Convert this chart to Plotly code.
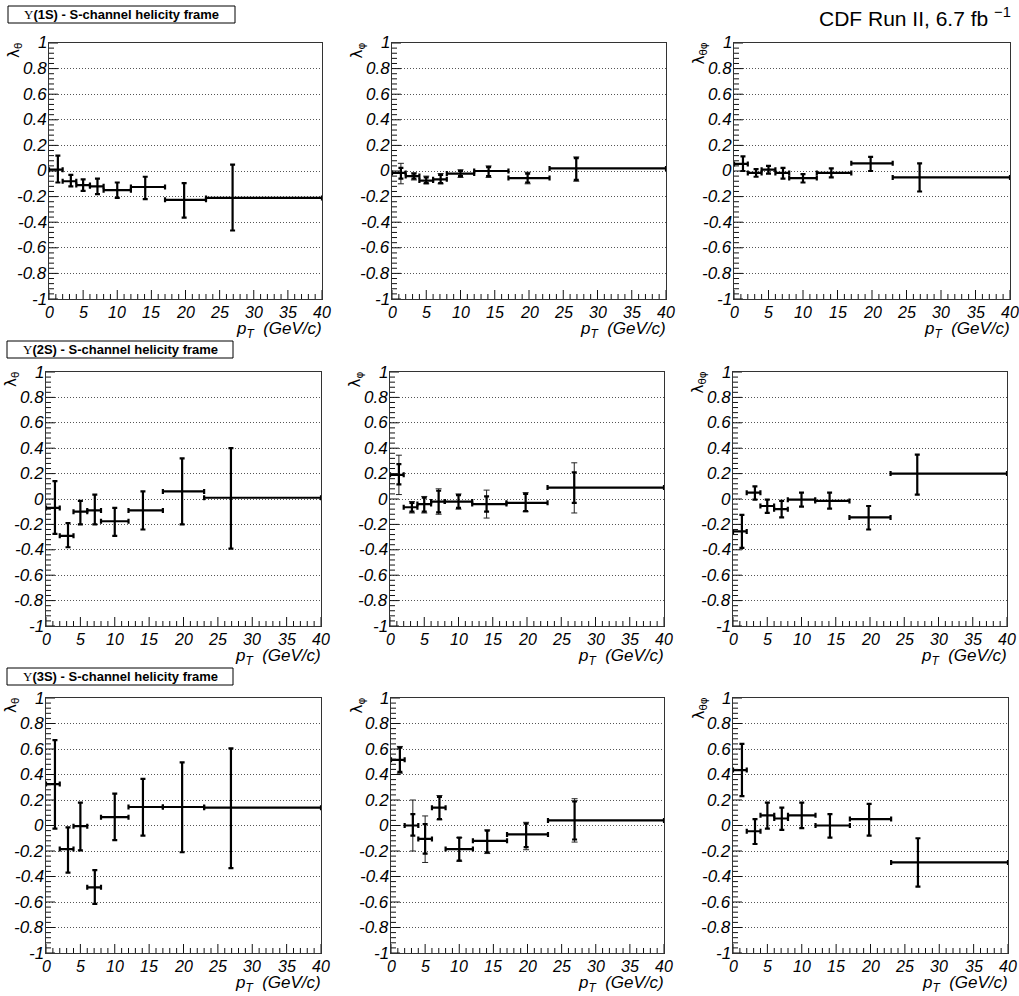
import plotly.graph_objects as go

W, H = 1019, 996

# ---------------- data ----------------
bin_edges = [0, 2, 4, 6, 8, 12, 17, 23, 40]
pt_mean = [1.3, 3.2, 5.0, 7.1, 10.0, 14.1, 19.8, 26.9]

states = ["1S", "2S", "3S"]
param_labels = ["λ<sub>θ</sub>", "λ<sub>φ</sub>", "λ<sub>θφ</sub>"]

x_tick_vals = [0, 5, 10, 15, 20, 25, 30, 35, 40]
x_tick_text = ["0", "5", "10", "15", "20", "25", "30", "35", "40"]
y_tick_vals = [-1, -0.8, -0.6, -0.4, -0.2, 0, 0.2, 0.4, 0.6, 0.8, 1]
y_tick_text = ["-1", "-0.8", "-0.6", "-0.4", "-0.2", "0", "0.2", "0.4", "0.6", "0.8", "1"]

# Upsilon(1S)
y1_lth = [0.01, -0.08, -0.11, -0.12, -0.15, -0.125, -0.225, -0.21]
y1_lth_hi = [0.12, -0.03, -0.065, -0.06, -0.09, -0.045, -0.095, 0.05]
y1_lth_lo = [-0.09, -0.12, -0.155, -0.18, -0.21, -0.22, -0.365, -0.465]

y1_lph = [-0.015, -0.04, -0.075, -0.065, -0.02, 0.0, -0.055, 0.02]
y1_lph_hi = [0.06, -0.015, -0.04, -0.02, 0.01, 0.04, -0.01, 0.11]
y1_lph_lo = [-0.10, -0.07, -0.10, -0.10, -0.05, -0.05, -0.10, -0.08]
y1_lph_shi = [0.025, -0.02, -0.05, -0.03, 0.0, 0.03, -0.02, 0.10]
y1_lph_slo = [-0.06, -0.06, -0.095, -0.095, -0.04, -0.04, -0.09, -0.07]

y1_ltp = [0.055, -0.015, 0.01, -0.015, -0.055, -0.015, 0.06, -0.05]
y1_ltp_hi = [0.115, 0.015, 0.04, 0.025, -0.025, 0.02, 0.11, 0.06]
y1_ltp_lo = [0.0, -0.045, -0.02, -0.06, -0.09, -0.05, 0.0, -0.16]

# Upsilon(2S)
y2_lth = [-0.07, -0.29, -0.10, -0.09, -0.175, -0.09, 0.06, 0.01]
y2_lth_hi = [0.14, -0.19, -0.015, 0.035, -0.07, 0.06, 0.32, 0.40]
y2_lth_lo = [-0.275, -0.38, -0.20, -0.20, -0.29, -0.24, -0.20, -0.39]

y2_lph = [0.19, -0.065, -0.04, -0.02, -0.02, -0.04, -0.03, 0.09]
y2_lph_hi = [0.345, -0.02, 0.02, 0.08, 0.04, 0.07, 0.05, 0.285]
y2_lph_lo = [0.035, -0.11, -0.11, -0.12, -0.08, -0.15, -0.10, -0.11]
y2_lph_shi = [0.275, -0.03, 0.01, 0.065, 0.03, 0.02, 0.04, 0.21]
y2_lph_slo = [0.115, -0.10, -0.10, -0.105, -0.07, -0.10, -0.095, -0.03]

y2_ltp = [-0.255, 0.05, -0.055, -0.08, -0.005, -0.015, -0.145, 0.20]
y2_ltp_hi = [-0.125, 0.10, -0.005, -0.015, 0.05, 0.05, -0.055, 0.35]
y2_ltp_lo = [-0.385, -0.005, -0.11, -0.145, -0.06, -0.075, -0.24, 0.035]

# Upsilon(3S)
y3_lth = [0.325, -0.185, -0.005, -0.485, 0.065, 0.145, 0.145, 0.14]
y3_lth_hi = [0.67, -0.015, 0.18, -0.35, 0.25, 0.365, 0.495, 0.605]
y3_lth_lo = [-0.025, -0.37, -0.195, -0.615, -0.115, -0.08, -0.21, -0.335]

y3_lph = [0.515, 0.0, -0.105, 0.14, -0.185, -0.12, -0.07, 0.04]
y3_lph_hi = [0.62, 0.20, 0.075, 0.235, -0.095, -0.035, 0.025, 0.21]
y3_lph_lo = [0.41, -0.20, -0.29, 0.045, -0.28, -0.22, -0.19, -0.13]
y3_lph_shi = [0.61, 0.09, 0.01, 0.225, -0.095, -0.04, 0.015, 0.19]
y3_lph_slo = [0.42, -0.08, -0.22, 0.05, -0.275, -0.21, -0.17, -0.11]

y3_ltp = [0.435, -0.045, 0.08, 0.055, 0.08, 0.0, 0.05, -0.29]
y3_ltp_hi = [0.64, 0.05, 0.18, 0.14, 0.18, 0.09, 0.17, -0.10]
y3_ltp_lo = [0.23, -0.145, -0.025, -0.035, -0.02, -0.095, -0.08, -0.48]

panels = [
    [(y1_lth, y1_lth_lo, y1_lth_hi, None, None),
     (y1_lph, y1_lph_lo, y1_lph_hi, y1_lph_slo, y1_lph_shi),
     (y1_ltp, y1_ltp_lo, y1_ltp_hi, None, None)],
    [(y2_lth, y2_lth_lo, y2_lth_hi, None, None),
     (y2_lph, y2_lph_lo, y2_lph_hi, y2_lph_slo, y2_lph_shi),
     (y2_ltp, y2_ltp_lo, y2_ltp_hi, None, None)],
    [(y3_lth, y3_lth_lo, y3_lth_hi, None, None),
     (y3_lph, y3_lph_lo, y3_lph_hi, y3_lph_slo, y3_lph_shi),
     (y3_ltp, y3_ltp_lo, y3_ltp_hi, None, None)],
]

# ---------------- layout geometry (pixels) ----------------
rows_px = [(43, 299), (372, 626), (698, 953)]
cols_px = [
    [(49, 322), (392, 666), (734, 1010)],
    [(46, 321), (390, 664), (733, 1007)],
    [(46, 321), (391, 664), (733, 1008)],
]
box_px = [(8, 6, 235, 23), (7, 341, 233, 358), (7, 668, 233, 685)]
MAJOR_LEN, MINOR_LEN = 9, 5

# minor tick positions (axis decoration, not data)
x_minor = [v for v in range(0, 41) if v % 5 != 0]
y_minor = [round(-1 + 0.04 * k, 2) for k in range(51) if k % 5 != 0]

def px_x(p):
    return p / W

def px_y(p):
    return 1 - p / H

FONT = "Liberation Sans"
fig = go.Figure()
annotations = []
shapes = []

xerr_plus = [bin_edges[i + 1] - pt_mean[i] for i in range(len(pt_mean))]
xerr_minus = [pt_mean[i] - bin_edges[i] for i in range(len(pt_mean))]
TICK_LINE = dict(color="#111", width=1)

idx = 0
for r in range(3):
    for c in range(3):
        idx += 1
        xa = "x" if idx == 1 else f"x{idx}"
        ya = "y" if idx == 1 else f"y{idx}"
        xl = "xaxis" if idx == 1 else f"xaxis{idx}"
        yl = "yaxis" if idx == 1 else f"yaxis{idx}"
        (x0, x1) = cols_px[r][c]
        (t, b) = rows_px[r]
        pw, ph = x1 - x0, b - t
        yv, lo, hi, slo, shi = panels[r][c]
        eplus = [h - v for h, v in zip(hi, yv)]
        eminus = [v - l for v, l in zip(yv, lo)]
        if slo is not None:
            fig.add_trace(go.Scatter(
                x=pt_mean, y=yv, mode="markers", xaxis=xa, yaxis=ya,
                marker=dict(size=1, color="black"), showlegend=False, hoverinfo="skip",
                error_y=dict(type="data", symmetric=False, array=eplus, arrayminus=eminus,
                             color="#222", thickness=1, width=3),
            ))
            splus = [h - v for h, v in zip(shi, yv)]
            sminus = [v - l for v, l in zip(yv, slo)]
        else:
            splus, sminus = eplus, eminus
        fig.add_trace(go.Scatter(
            x=pt_mean, y=yv, mode="markers", xaxis=xa, yaxis=ya,
            marker=dict(size=1, color="black"), showlegend=False, hoverinfo="skip",
            error_y=dict(type="data", symmetric=False, array=splus, arrayminus=sminus,
                         color="black", thickness=2.2, width=2.5),
            error_x=dict(type="data", symmetric=False, array=xerr_plus, arrayminus=xerr_minus,
                         color="black", thickness=2.2, width=2.5),
        ))
        fig.layout[xl] = dict(
            domain=[px_x(x0), px_x(x1)], anchor=ya, range=[0, 40],
            showticklabels=False, ticks="",
            showline=True, linecolor="#333", linewidth=1, mirror=True,
            showgrid=False, zeroline=False,
        )
        fig.layout[yl] = dict(
            domain=[px_y(b), px_y(t)], anchor=xa, range=[-1, 1],
            tickmode="array", tickvals=y_tick_vals,
            showticklabels=False, ticks="",
            showline=True, linecolor="#333", linewidth=1, mirror=True,
            showgrid=True, gridcolor="#555", griddash="1px,2px", gridwidth=1,
            zeroline=False,
        )
        # tick marks (inside)
        for v in x_tick_vals + x_minor:
            ln = MAJOR_LEN if v in x_tick_vals else MINOR_LEN
            shapes.append(dict(type="line", xref=xa, yref=f"{ya} domain",
                               x0=v, x1=v, y0=0, y1=ln / ph, line=TICK_LINE))
        for v in y_tick_vals + y_minor:
            ln = MAJOR_LEN if v in y_tick_vals else MINOR_LEN
            shapes.append(dict(type="line", xref=f"{xa} domain", yref=ya,
                               x0=0, x1=ln / pw, y0=v, y1=v, line=TICK_LINE))
        # tick labels
        for v, s in zip(x_tick_vals, x_tick_text):
            annotations.append(dict(
                xref=xa, yref=f"{ya} domain", x=v, y=0, xanchor="center", yanchor="top",
                yshift=-3, text=f"<i>{s}</i>", showarrow=False,
                font=dict(family=FONT, size=16, color="black"),
            ))
        for v, s in zip(y_tick_vals, y_tick_text):
            annotations.append(dict(
                xref=f"{xa} domain", yref=ya, x=0, y=v, xanchor="right", yanchor="middle",
                xshift=0, text=f"<i>{s}</i>", showarrow=False,
                font=dict(family=FONT, size=17, color="black"),
            ))
        annotations.append(dict(
            xref="paper", yref="paper", x=px_x(x0 - 23), y=px_y(t - 2),
            xanchor="right", yanchor="top", text=param_labels[c], showarrow=False,
            textangle=-90, font=dict(family="DejaVu Sans", size=15, color="black"),
        ))
        annotations.append(dict(
            xref="paper", yref="paper", x=px_x(x1 + 2), y=px_y(b + 18),
            xanchor="right", yanchor="top",
            text="<i>p</i><sub><i>T</i></sub>  <i>(GeV/c)</i>", showarrow=False,
            font=dict(family=FONT, size=17, color="black"),
        ))
    bx0, by0, bx1, by1 = box_px[r]
    shapes.append(dict(type="rect", xref="paper", yref="paper",
                       x0=px_x(bx0), x1=px_x(bx1), y0=px_y(by1), y1=px_y(by0),
                       line=dict(color="black", width=1), fillcolor="white"))
    annotations.append(dict(
        xref="paper", yref="paper", x=px_x((bx0 + bx1) / 2), y=px_y((by0 + by1) / 2),
        xanchor="center", yanchor="middle", showarrow=False,
        text=f"<span style='font-family:Liberation Serif'>Υ</span><b>({states[r]}) - S-channel helicity frame</b>",
        font=dict(family=FONT, size=13, color="black"),
    ))

annotations.append(dict(
    xref="paper", yref="paper", x=px_x(1013), y=px_y(2), xanchor="right", yanchor="top",
    text="CDF Run II, 6.7 fb <sup>−1</sup>", showarrow=False,
    font=dict(family=FONT, size=21, color="black"),
))

fig.update_layout(
    width=W, height=H, margin=dict(l=0, r=0, t=0, b=0),
    paper_bgcolor="white", plot_bgcolor="white",
    annotations=annotations, shapes=shapes, showlegend=False,
)

fig.write_html("out.html")
